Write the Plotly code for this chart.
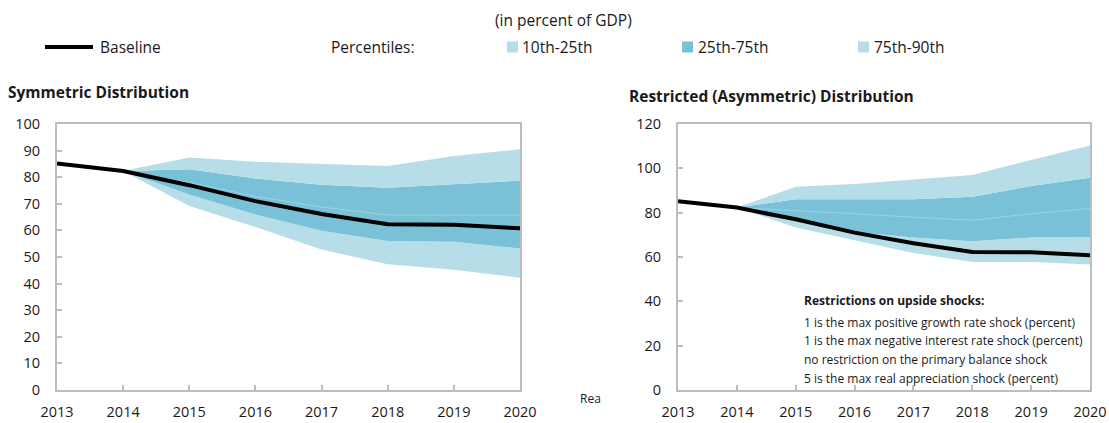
import plotly.graph_objects as go

# Public debt fan charts, in percent of GDP
years = [2013, 2014, 2015, 2016, 2017, 2018, 2019, 2020]
fan_years = [2014, 2015, 2016, 2017, 2018, 2019, 2020]

baseline = [85.2, 82.3, 77.0, 71.0, 66.2, 62.3, 62.1, 60.8]

# Symmetric distribution percentiles (2014-2020)
sym_p10 = [82.3, 69.2, 61.3, 52.8, 47.3, 45.2, 42.2]
sym_p25 = [82.3, 73.5, 66.0, 59.9, 56.0, 55.7, 53.2]
sym_p50 = [82.3, 78.0, 72.8, 68.8, 65.8, 65.8, 65.8]
sym_p75 = [82.3, 83.0, 79.5, 77.2, 76.0, 77.4, 78.7]
sym_p90 = [82.3, 87.4, 85.8, 84.9, 84.2, 88.0, 90.5]

# Restricted (asymmetric) distribution percentiles (2014-2020)
res_p10 = [82.3, 73.3, 67.6, 61.8, 57.8, 57.8, 56.6]
res_p25 = [82.3, 76.6, 71.3, 68.8, 67.1, 68.8, 69.0]
res_p50 = [82.3, 81.0, 79.5, 78.0, 76.6, 79.5, 81.9]
res_p75 = [82.3, 86.0, 86.0, 86.0, 87.2, 92.0, 95.8]
res_p90 = [82.3, 91.7, 92.9, 95.0, 97.0, 103.8, 110.3]

left_ticks = [0, 10, 20, 30, 40, 50, 60, 70, 80, 90, 100]
right_ticks = [0, 20, 40, 60, 80, 100, 120]

restriction_notes = [
    "1 is the max positive growth rate shock (percent)",
    "1 is the max negative interest rate shock (percent)",
    "no restriction on the primary balance shock",
    "5 is the max real appreciation shock (percent)",
]

LIGHT = "#b6dde8"
MID = "#78c1d6"
FRAME = "#bdbdbd"
FONT = "Open Sans"
TEXT = "#1a1a1a"

W, H = 1109, 423


def px_x(x):
    return x / W


def px_y(y):
    return 1 - y / H


fig = go.Figure()


def add_fan(xa, ya, p10, p25, p50, p75, p90):
    common = dict(x=fan_years, xaxis=xa, yaxis=ya, mode="lines",
                  line=dict(width=0), showlegend=False, hoverinfo="skip")
    fig.add_trace(go.Scatter(y=p10, **common))
    fig.add_trace(go.Scatter(y=p25, fill="tonexty", fillcolor=LIGHT, **common))
    fig.add_trace(go.Scatter(y=p75, fill="tonexty", fillcolor=MID, **common))
    fig.add_trace(go.Scatter(y=p90, fill="tonexty", fillcolor=LIGHT, **common))
    fig.add_trace(go.Scatter(x=fan_years, y=p50, xaxis=xa, yaxis=ya, mode="lines",
                             line=dict(width=1, color="rgba(160,212,228,0.9)"),
                             showlegend=False, hoverinfo="skip"))
    fig.add_trace(go.Scatter(x=years, y=baseline, xaxis=xa, yaxis=ya, mode="lines",
                             line=dict(width=4, color="black"),
                             showlegend=False, hoverinfo="skip"))


add_fan("x", "y", sym_p10, sym_p25, sym_p50, sym_p75, sym_p90)
add_fan("x2", "y2", res_p10, res_p25, res_p50, res_p75, res_p90)

ydom = [px_y(390), px_y(124)]
axis_common = dict(showline=True, mirror=True, linecolor=FRAME, linewidth=2,
                   ticks="inside", tickcolor=FRAME, ticklen=5, tickwidth=1.5,
                   showgrid=False, zeroline=False, automargin=False,
                   tickfont=dict(family=FONT, size=14.5, color=TEXT))

fig.update_layout(
    width=W, height=H, autosize=False,
    margin=dict(l=0, r=0, t=0, b=0, pad=0, autoexpand=False),
    paper_bgcolor="white", plot_bgcolor="white",
    xaxis=dict(domain=[px_x(57), px_x(520)], range=[2013, 2020],
               tickvals=years, anchor="y", ticklabelstandoff=8, **axis_common),
    yaxis=dict(domain=ydom, range=[0, 100], tickvals=left_ticks,
               anchor="x", ticklabelstandoff=12, **axis_common),
    xaxis2=dict(domain=[px_x(678), px_x(1090)], range=[2013, 2020],
                tickvals=years, anchor="y2", ticklabelstandoff=8, **axis_common),
    yaxis2=dict(domain=ydom, range=[0, 120], tickvals=right_ticks,
                anchor="x2", ticklabelstandoff=12, **axis_common),
)

annotations = [
    dict(text="(in percent of GDP)", x=px_x(563), y=px_y(20)),
    dict(text="Baseline", x=px_x(98), y=px_y(47), xanchor="left"),
    dict(text="Percentiles:", x=px_x(329), y=px_y(47), xanchor="left"),
    dict(text="10th-25th", x=px_x(520), y=px_y(47), xanchor="left"),
    dict(text="25th-75th", x=px_x(696), y=px_y(47), xanchor="left"),
    dict(text="75th-90th", x=px_x(872), y=px_y(47), xanchor="left"),
    dict(text="<b>Symmetric Distribution</b>", x=px_x(6), y=px_y(92), xanchor="left"),
    dict(text="<b>Restricted (Asymmetric) Distribution</b>", x=px_x(627), y=px_y(96),
         xanchor="left"),
    dict(text="Rea", x=px_x(578), y=px_y(398), xanchor="left", size=12),
    dict(text="<b>Restrictions on upside shocks:</b>", x=px_x(802), y=px_y(300),
         xanchor="left", size=12),
]
for i, note in enumerate(restriction_notes):
    annotations.append(dict(text=note, x=px_x(802), y=px_y(322 + i * 18.7),
                            xanchor="left", size=12))

fig.update_layout(annotations=[
    dict(text=a["text"], x=a["x"], y=a["y"], xref="paper", yref="paper",
         xanchor=a.get("xanchor", "center"), yanchor="middle", showarrow=False,
         font=dict(family=FONT, size=a.get("size", 15.5), color=TEXT))
    for a in annotations
])

# Legend keys
shapes = [
    dict(type="line", xref="paper", yref="paper",
         x0=px_x(45), x1=px_x(93), y0=px_y(47), y1=px_y(47),
         line=dict(color="black", width=4)),
]
for x0, col in [(507, LIGHT), (682, MID), (858, LIGHT)]:
    shapes.append(dict(type="rect", xref="paper", yref="paper",
                       x0=px_x(x0), x1=px_x(x0 + 11), y0=px_y(52.5), y1=px_y(41.5),
                       fillcolor=col, line=dict(width=0)))
fig.update_layout(shapes=shapes)

fig.write_html("out.html")
